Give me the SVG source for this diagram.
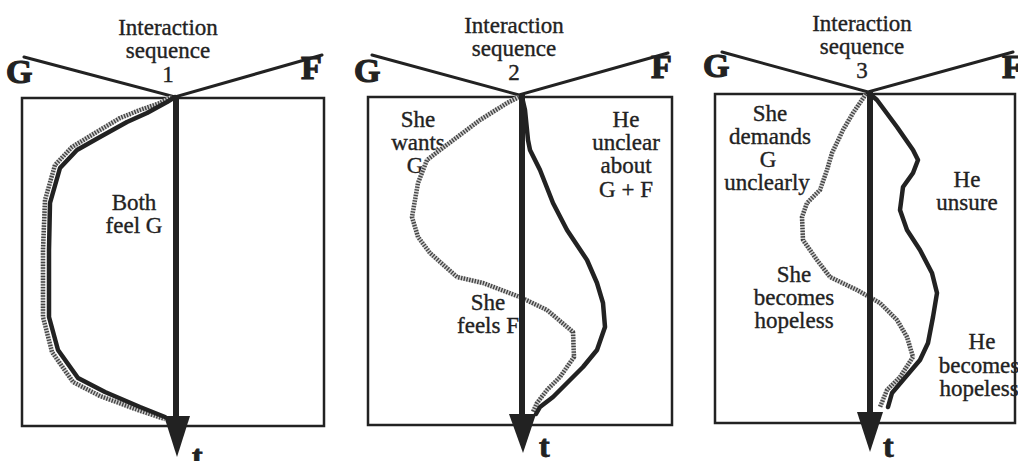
<svg xmlns="http://www.w3.org/2000/svg" xmlns:xlink="http://www.w3.org/1999/xlink" width="1018" height="461" viewBox="0 0 1018 461">
<style>
.box{fill:none;stroke:#222;stroke-width:2.5}
.gf{fill:none;stroke:#222;stroke-width:3;stroke-linecap:round}
.axis{stroke:#222;stroke-width:6}
.head{fill:#222}
.he{fill:none;stroke:#222;stroke-width:4.5;stroke-linejoin:round;stroke-linecap:round}
.shebg{fill:none;stroke:#d0d0d0;stroke-width:4.5;stroke-linejoin:round}
.she{fill:none;stroke:#444;stroke-width:4.5;stroke-dasharray:1.4 1.4;stroke-linejoin:round}
.lbl{font-family:"Liberation Serif","Times New Roman",serif;font-size:23px;fill:#222;stroke:#222;stroke-width:0.35;text-anchor:middle}
.big{font-family:"Liberation Serif","Times New Roman",serif;font-weight:bold;font-size:34px;fill:#222;stroke:#222;stroke-width:1.2}
.t{font-family:"Liberation Serif","Times New Roman",serif;font-weight:bold;font-size:32px;fill:#222;stroke:#222;stroke-width:0.8}
</style>
<defs>
<path id="s1" d="M172,97 L160,103 L140,110 L120,118 L95,133 L72,147 L55,165 L45,200 L43,250 L43,317 L52,352 L73,382 L100,396 L138,410 L165,419"/>
<path id="s2" d="M519,97 L507,103 L480,120 L440,150 L427,160 L418,183 L412,217 L418,237 L430,253 L457,277 L483,283 L520,297 L547,310 L573,332 L574,357 L560,377 L547,390 L537,403 L533,412"/>
<path id="s3" d="M866,94 L853,113 L843,130 L832,153 L827,170 L820,190 L807,203 L802,217 L803,240 L817,260 L830,277 L857,290 L880,303 L897,320 L907,337 L913,357 L900,377 L887,390 L880,407"/>
</defs>
<rect width="1018" height="461" fill="#fff"/>

<g id="panel1">
<rect class="box" x="22" y="98" width="302" height="328"/>
<text class="lbl" x="168" y="35">Interaction</text>
<text class="lbl" x="168" y="58">sequence</text>
<text class="lbl" x="168" y="82">1</text>
<text class="big" x="6" y="83">G</text>
<text class="big" x="301" y="79">F</text>
<text class="t" x="192" y="467">t</text>
<text class="lbl" x="134" y="210">Both</text>
<text class="lbl" x="134" y="233">feel G</text>
</g>

<g id="panel2">
<rect class="box" x="368" y="97" width="304" height="328"/>
<text class="lbl" x="514" y="33">Interaction</text>
<text class="lbl" x="514" y="56">sequence</text>
<text class="lbl" x="514" y="80">2</text>
<text class="big" x="354" y="82">G</text>
<text class="big" x="651" y="78">F</text>
<text class="t" x="539" y="457">t</text>
<text class="lbl" x="418" y="127">She</text>
<text class="lbl" x="418" y="150">wants</text>
<text class="lbl" x="415" y="173">G</text>
<text class="lbl" x="626" y="127">He</text>
<text class="lbl" x="626" y="150">unclear</text>
<text class="lbl" x="626" y="173">about</text>
<text class="lbl" x="626" y="197">G + F</text>
<text class="lbl" x="488" y="310">She</text>
<text class="lbl" x="488" y="333">feels F</text>
</g>

<g id="panel3">
<rect class="box" x="715" y="94" width="300" height="329"/>
<text class="lbl" x="862" y="31">Interaction</text>
<text class="lbl" x="862" y="54">sequence</text>
<text class="lbl" x="862" y="78">3</text>
<text class="big" x="703" y="77">G</text>
<text class="big" x="1002" y="78">F</text>
<text class="t" x="883" y="457">t</text>
<text class="lbl" x="770" y="121">She</text>
<text class="lbl" x="770" y="144">demands</text>
<text class="lbl" x="768" y="167">G</text>
<text class="lbl" x="767" y="190">unclearly</text>
<text class="lbl" x="967" y="187">He</text>
<text class="lbl" x="967" y="210">unsure</text>
<text class="lbl" x="794" y="282">She</text>
<text class="lbl" x="794" y="305">becomes</text>
<text class="lbl" x="794" y="328">hopeless</text>
<text class="lbl" x="982" y="349">He</text>
<text class="lbl" x="979" y="373">becomes</text>
<text class="lbl" x="979" y="396">hopeless</text>
</g>

<g id="connectors">
<path class="gf" d="M24,57 L175,97 L322,55"/>
<path class="gf" d="M372,55 L519,95 L668,53"/>
<path class="gf" d="M722,52 L868,92 L1013,52"/>
<use xlink:href="#s1" class="shebg"/><use xlink:href="#s1" class="she"/>
<use xlink:href="#s2" class="shebg"/><use xlink:href="#s2" class="she"/>
<use xlink:href="#s3" class="shebg"/><use xlink:href="#s3" class="she"/>
<path class="he" d="M175,97 L167,102 L147,113 L127,122 L100,137 L77,150 L60,168 L50,203 L49,250 L49,317 L58,350 L78,378 L105,392 L140,407 L165,417"/>
<path class="he" d="M522,97 L525,110 L528,140 L530,150 L540,170 L553,203 L567,230 L587,260 L597,283 L603,303 L605,327 L597,350 L583,367 L567,383 L553,397 L540,407 L536,414"/>
<path class="he" d="M870,94 L877,100 L897,127 L913,150 L918,160 L913,173 L903,187 L900,210 L907,230 L920,250 L932,273 L937,293 L933,317 L928,343 L920,360 L903,380 L892,393 L888,407"/>
<line class="axis" x1="176" y1="96" x2="176" y2="420"/>
<polygon class="head" points="164,416 190,416 177,457"/>
<line class="axis" x1="522" y1="94" x2="522" y2="418"/>
<polygon class="head" points="509,414 536,414 523,453"/>
<line class="axis" x1="870" y1="91" x2="870" y2="416"/>
<polygon class="head" points="857,412 883,412 870,452"/>
</g>
</svg>
